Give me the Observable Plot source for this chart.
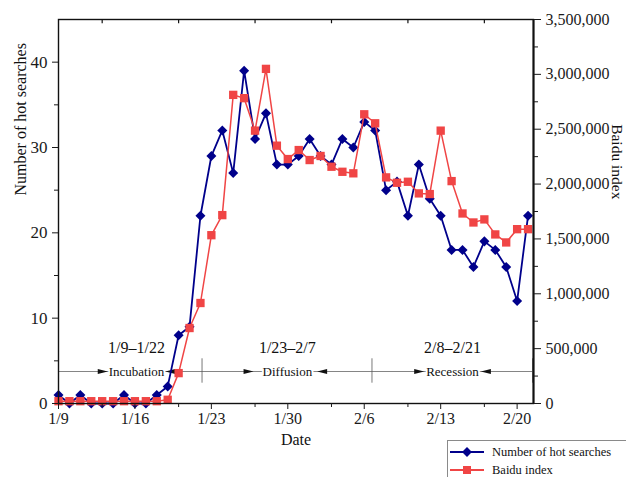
<!DOCTYPE html>
<html><head><meta charset="utf-8">
<script src="https://cdn.jsdelivr.net/npm/d3@7"></script>
<script src="https://cdn.jsdelivr.net/npm/@observablehq/plot@0.6"></script>
<style>
body{margin:0;background:#fff;}
#wrap{position:relative;width:626px;height:477px;overflow:hidden;background:#fff;}
#legend{position:absolute;left:447px;top:440px;width:200px;height:60px;border:1px solid #8a8a8a;background:#fff;font-family:"Liberation Serif","Times New Roman",serif;font-size:12.5px;color:#111;}
#legend .row{display:flex;align-items:center;height:18px;}
#legend .row:first-child{margin-top:2px;}
#legend svg{margin-right:7px;margin-left:1px;}
</style></head><body><div id="wrap"></div>
<script>
const dates = ["2020-01-09","2020-01-10","2020-01-11","2020-01-12","2020-01-13","2020-01-14","2020-01-15","2020-01-16","2020-01-17","2020-01-18","2020-01-19","2020-01-20","2020-01-21","2020-01-22","2020-01-23","2020-01-24","2020-01-25","2020-01-26","2020-01-27","2020-01-28","2020-01-29","2020-01-30","2020-01-31","2020-02-01","2020-02-02","2020-02-03","2020-02-04","2020-02-05","2020-02-06","2020-02-07","2020-02-08","2020-02-09","2020-02-10","2020-02-11","2020-02-12","2020-02-13","2020-02-14","2020-02-15","2020-02-16","2020-02-17","2020-02-18","2020-02-19","2020-02-20","2020-02-21"];
const hotSearches = [1,0,1,0,0,0,1,0,0,1,2,8,9,22,29,32,27,39,31,34,28,28,29,31,29,28,31,30,33,32,25,26,22,28,24,22,18,18,16,19,18,16,12,22];
const baiduIndex = [21000,21000,21000,21000,21000,21000,21000,21000,21000,21000,34000,277000,688000,916000,1534000,1717000,2813000,2783000,2487000,3050000,2350000,2228000,2310000,2219000,2256000,2158000,2112000,2098000,2636000,2554000,2061000,2012000,2021000,1915000,1909000,2487000,2027000,1732000,1650000,1678000,1541000,1468000,1589000,1589000];
const xTickDates = ["2020-01-09","2020-01-16","2020-01-23","2020-01-30","2020-02-06","2020-02-13","2020-02-20"];
const xTickLabels = ["1/9","1/16","1/23","1/30","2/6","2/13","2/20"];
const xMinorDates = ["2020-01-13","2020-01-20","2020-01-27","2020-02-03","2020-02-10","2020-02-17"];
const leftTicks = [0,10,20,30,40];
const leftMinor = [5,15,25,35];
const rightTicks = [0,500000,1000000,1500000,2000000,2500000,3000000,3500000];
const rightMinor = [250000,750000,1250000,1750000,2250000,2750000,3250000];
const phaseRanges = ["1/9–1/22","1/23–2/7","2/8–2/21"];
const phaseNames = ["Incubation","Diffusion","Recession"];
const phaseEnds = ["2020-01-22T03:30Z","2020-02-06T17:00Z","2020-02-21T10:00Z"];
const phaseCenters = ["2020-01-16T03:30Z","2020-01-29T23:00Z","2020-02-14T02:00Z"];
const phaseGaps = [0, 8, 1];
const seriesNames = ["Number of hot searches","Baidu index"];

const leftMax = 45, rightMax = 3500000;
const k = leftMax / rightMax;
const bandLevel = 3.75, sepLow = 2.38, sepHigh = 5.24, rangeLevel = 6.5;
const navy = "#00008b", red = "#f04545";
const serif = "Liberation Serif, Times New Roman, serif";
const nameSize = 13;

const data = dates.map((d, i) => ({date: new Date(d), hot: hotSearches[i], baidu: baiduIndex[i] * k}));
const phases = phaseNames.map((n, i) => ({name: n, range: phaseRanges[i], center: new Date(phaseCenters[i])}));
const xDomain = [new Date("2020-01-09T00:00Z"), new Date("2020-02-21T12:00Z")];
const labelMap = new Map(xTickDates.map((d, i) => [+new Date(d), xTickLabels[i]]));

const ctx = document.createElement("canvas").getContext("2d");
ctx.font = `${nameSize}px "Liberation Serif"`;
const widths = phaseNames.map(n => ctx.measureText(n).width);

const arrowHead = {draw(c, size) { const s = Math.sqrt(size) / 2; c.moveTo(s, 0); c.lineTo(-s, -s * 0.48); c.lineTo(-s, s * 0.48); c.closePath(); }};
const headR = Math.sqrt(100 / Math.PI);

const arrowMarks = phases.flatMap((p, i) => [
  Plot.dot([p], {x: "center", y: bandLevel, symbol: arrowHead, r: headR, fill: "#111", dx: -(widths[i] / 2 + 6 + phaseGaps[i])}),
  Plot.dot([p], {x: "center", y: bandLevel, symbol: arrowHead, r: headR, fill: "#111", rotate: 180, dx: widths[i] / 2 + 6 + Math.min(phaseGaps[i], 4)})
]);

const chart = Plot.plot({
  width: 626, height: 477,
  marginLeft: 58, marginRight: 93, marginTop: 19, marginBottom: 74,
  style: {fontFamily: serif, fontSize: "16px", color: "#1a1a1a", background: "#fff"},
  x: {type: "utc", domain: xDomain, label: null},
  y: {domain: [0, leftMax], label: null},
  marks: [
    Plot.ruleY([bandLevel], {x1: xDomain[0], x2: new Date(phaseEnds[2]), stroke: "#666", strokeWidth: 0.8}),
    Plot.ruleX(phaseEnds.map(d => new Date(d)), {y1: sepLow, y2: sepHigh, stroke: "#555", strokeWidth: 0.8}),
    Plot.text(phases, {x: "center", y: bandLevel, text: "name", fontSize: nameSize, fill: "#111", stroke: "white", strokeWidth: 4}),
    ...arrowMarks,
    Plot.text(phases, {x: "center", y: rangeLevel, text: "range", fontSize: 16, fill: "#111"}),
    Plot.line(data, {x: "date", y: "hot", stroke: navy, strokeWidth: 1.8}),
    Plot.dot(data, {x: "date", y: "hot", symbol: "square", rotate: 45, r: 4, fill: navy}),
    Plot.line(data, {x: "date", y: "baidu", stroke: red, strokeWidth: 1.5}),
    Plot.dot(data, {x: "date", y: "baidu", symbol: "square", r: 4.7, fill: red}),
    Plot.frame({stroke: "#111", strokeWidth: 1.4}),
    Plot.ruleX([xDomain[1]], {stroke: "#111", strokeWidth: 2}),
    Plot.ruleX(xMinorDates.map(d => new Date(d)), {y1: leftMax, y2: leftMax - 0.5, stroke: "#111", strokeWidth: 1.2}),
    Plot.axisX(xTickDates.map(d => new Date(d)), {tickSize: 6, tickPadding: 3, fontSize: 16, tickFormat: d => labelMap.get(+d), label: null}),
    Plot.axisX(xMinorDates.map(d => new Date(d)), {tickSize: 4, tickFormat: () => "", label: null}),
    Plot.axisY(leftTicks, {anchor: "left", tickSize: 6, tickPadding: 5, fontSize: 17, label: null}),
    Plot.axisY(leftMinor, {anchor: "left", tickSize: 4, tickFormat: () => "", label: null}),
    Plot.axisY(rightTicks.map(v => v * k), {anchor: "right", tickSize: 7, tickPadding: 5, fontSize: 16, tickFormat: d => d3.format(",")(Math.round(d / k)), label: null}),
    Plot.axisY(rightMinor.map(v => v * k), {anchor: "right", tickSize: 4, tickFormat: () => "", label: null}),
    Plot.text(["Number of hot searches"], {frameAnchor: "left", dx: -38, dy: -16, rotate: -90, fontSize: 16, fill: "#111"}),
    Plot.text(["Baidu index"], {frameAnchor: "right", dx: 83, dy: -12, rotate: 90, fontSize: 15.5, fill: "#111"}),
    Plot.text(["Date"], {frameAnchor: "bottom", dy: 41, fontSize: 16, fill: "#111"})
  ]
});
const wrap = document.getElementById("wrap");
wrap.appendChild(chart);

const legend = document.createElement("div");
legend.id = "legend";
const swatch = (color, sym) => `<svg width="36" height="14"><line x1="1" x2="35" y1="7" y2="7" stroke="${color}" stroke-width="1.8"/>${sym}</svg>`;
legend.innerHTML =
  `<div class="row">${swatch(navy, `<rect x="14.5" y="3.5" width="7" height="7" fill="${navy}" transform="rotate(45 18 7)"/>`)}<span>${seriesNames[0]}</span></div>` +
  `<div class="row">${swatch(red, `<rect x="14" y="3" width="8" height="8" fill="${red}"/>`)}<span>${seriesNames[1]}</span></div>`;
wrap.appendChild(legend);
</script></body></html>
